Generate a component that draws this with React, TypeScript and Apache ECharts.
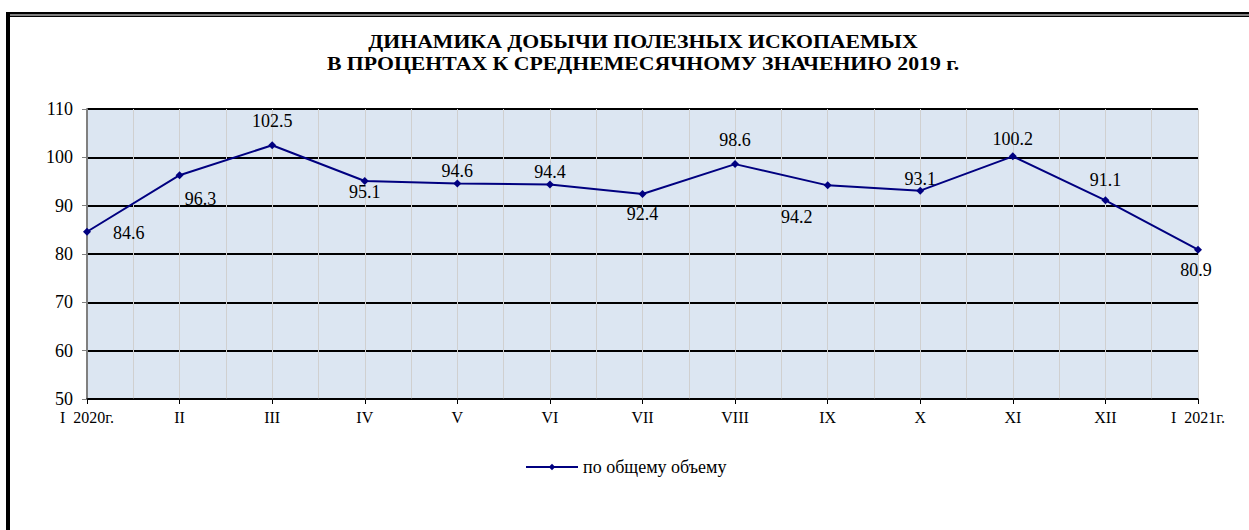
import React, { useEffect, useRef } from "react";
import * as echarts from "echarts";

const months = ["I  2020г.", "II", "III", "IV", "V", "VI", "VII", "VIII", "IX", "X", "XI", "XII", "I  2021г."];
const values = [84.6, 96.3, 102.5, 95.1, 94.6, 94.4, 92.4, 98.6, 94.2, 93.1, 100.2, 91.1, 80.9];
const seriesName = "по общему объему";
const titleLines = ["ДИНАМИКА ДОБЫЧИ ПОЛЕЗНЫХ ИСКОПАЕМЫХ", "В ПРОЦЕНТАХ К СРЕДНЕМЕСЯЧНОМУ ЗНАЧЕНИЮ 2019 г."];

// label placement per point (style only)
const labelPlacement: Array<{ position: string; offset: number[] }> = [
  { position: "right", offset: [17, 1] },
  { position: "bottom", offset: [21, 6] },
  { position: "top", offset: [0, -6] },
  { position: "bottom", offset: [0, -7] },
  { position: "top", offset: [0, 6] },
  { position: "top", offset: [0, 6] },
  { position: "bottom", offset: [0, 2] },
  { position: "top", offset: [0, -6] },
  { position: "bottom", offset: [-31, 14] },
  { position: "top", offset: [0, 6] },
  { position: "top", offset: [0, 1] },
  { position: "top", offset: [0, -2] },
  { position: "bottom", offset: [-2, 2] },
];

const FONT = "Liberation Serif";

export default function App() {
  const ref = useRef<HTMLDivElement>(null);
  useEffect(() => {
    if (!ref.current) return;
    const chart = echarts.init(ref.current, null, { renderer: "svg" });
    const data = values.map((v, i) => ({
      value: [i, v],
      label: { position: labelPlacement[i].position, offset: labelPlacement[i].offset },
    }));
    chart.setOption({
      animation: false,
      backgroundColor: "#ffffff",
      textStyle: { fontFamily: FONT },
      graphic: [
        { type: "rect", shape: { x: 6, y: 12, width: 4, height: 518 }, style: { fill: "#000" } },
        { type: "rect", shape: { x: 6, y: 12, width: 1243, height: 2.5 }, style: { fill: "#000" } },
        { type: "rect", shape: { x: 10, y: 15.5, width: 1239, height: 1.5 }, style: { fill: "#000" } },
        {
          type: "text",
          x: 643,
          y: 31,
          scaleX: 1.21,
          style: {
            text: titleLines.join("\n"),
            fontFamily: FONT,
            fontSize: 18,
            fontWeight: "bold",
            textAlign: "center",
            textVerticalAlign: "top",
            lineHeight: 22,
            fill: "#000",
          },
        },
      ],
      legend: {
        data: [seriesName],
        left: 525,
        top: 458,
        padding: 0,
        itemWidth: 52,
        itemHeight: 8,
        itemGap: 6,
        textStyle: { fontFamily: FONT, fontSize: 18, color: "#000" },
      },
      grid: {
        left: 87,
        right: 51,
        top: 109,
        bottom: 131,
        show: true,
        backgroundColor: "#dce6f2",
        borderWidth: 0,
      },
      xAxis: {
        type: "value",
        min: 0,
        max: 12,
        interval: 1,
        axisLine: { show: true, lineStyle: { color: "#000", width: 1.5 } },
        axisTick: { show: true, inside: false, length: 5, lineStyle: { color: "#000" } },
        axisLabel: {
          formatter: (v: number) => months[v] ?? "",
          fontFamily: FONT,
          fontSize: 16,
          color: "#000",
          margin: 10,
        },
        splitLine: { show: true, lineStyle: { color: "#d0d0d0", width: 1 } },
        minorTick: { show: false, splitNumber: 2 },
        minorSplitLine: { show: true, lineStyle: { color: "#d0d0d0", width: 1 } },
      },
      yAxis: {
        type: "value",
        min: 50,
        max: 110,
        interval: 10,
        axisLine: { show: true, lineStyle: { color: "#808080", width: 2 } },
        axisTick: { show: true, inside: false, length: 5, lineStyle: { color: "#808080" } },
        axisLabel: { fontFamily: FONT, fontSize: 18, color: "#000", margin: 14 },
        splitLine: { show: true, lineStyle: { color: "#000", width: 2 } },
      },
      series: [
        {
          name: seriesName,
          type: "line",
          data,
          symbol: "diamond",
          symbolSize: 8,
          lineStyle: { color: "#000080", width: 2 },
          itemStyle: { color: "#000080" },
          label: {
            show: true,
            formatter: (p: any) => p.value[1].toFixed(1),
            fontFamily: FONT,
            fontSize: 18,
            color: "#000",
          },
          z: 5,
        },
      ],
    });
    return () => chart.dispose();
  }, []);
  return <div ref={ref} style={{ position: "fixed", left: 0, top: 0, width: 1249, height: 530 }} />;
}
